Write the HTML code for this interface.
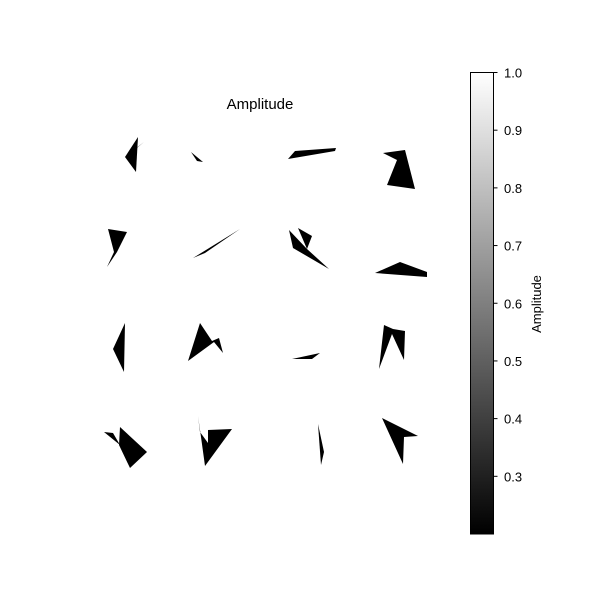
<!DOCTYPE html>
<html><head><meta charset="utf-8"><style>
html,body{margin:0;padding:0;background:#fff;}
svg{display:block;font-family:"Liberation Sans","DejaVu Sans",sans-serif;}
</style></head><body>
<svg id="chart" width="600" height="600" viewBox="0 0 600 600">
<defs><linearGradient id="grad" x1="0" y1="1" x2="0" y2="0">
<stop offset="0" stop-color="#000"/><stop offset="1" stop-color="#fff"/></linearGradient></defs>
<rect width="600" height="600" fill="#fff"/>
<text x="260" y="109" font-size="15" text-anchor="middle">Amplitude</text>
<g id="shapes"></g>
<rect x="470.5" y="72.5" width="23" height="461.5" fill="url(#grad)" stroke="#000" stroke-width="1"/>
<g id="cticks"></g>
<text transform="translate(541,304) rotate(-90)" font-size="13" text-anchor="middle">Amplitude</text>
</svg>
<script>
const shapePolys = [
 [[125,157],[138,137],[136,172]],
 [[125,157],[144,142],[132,152]],
 [[191,152],[203,162],[197,161]],
 [[288,159],[295,151],[336,148],[335,151]],
 [[383,153],[405,150],[415,189],[387,185],[397,160]],
 [[108,229],[127,232],[117,252],[107,267],[114,252]],
 [[193,258],[240,229],[205,253]],
 [[289,230],[293,248],[329,269],[307,249]],
 [[298,228],[312,236],[307,249]],
 [[375,273],[400,262],[427,272],[427,277]],
 [[125,323],[113,349],[124,372]],
 [[200,323],[188,361],[214,342],[223,353],[219,338],[212,341]],
 [[292,359],[320,353],[312,359]],
 [[384,325],[379,369],[392,334],[404,360],[405,331],[393,329]],
 [[104,432],[113,433],[120,445]],
 [[120,427],[147,452],[130,468],[119,445]],
 [[198,416],[200,432],[208,443],[208,430],[232,429],[205,466],[201,437]],
 [[318,424],[324,452],[321,465]],
 [[382,418],[418,436],[404,437],[403,464]]
];
const cbTicks = [0.3,0.4,0.5,0.6,0.7,0.8,0.9,1.0];
const cbMin = 0.2, cbMax = 1.0;
const ns = "http://www.w3.org/2000/svg";
const cy = v => 534 - (v - cbMin) / (cbMax - cbMin) * 461.5;
const g = document.getElementById('shapes');
shapePolys.forEach((p, i) => {
  const el = document.createElementNS(ns, 'polygon');
  el.setAttribute('points', p.map(q => q.join(',')).join(' '));
  el.setAttribute('fill', '#000');
  
  
  g.appendChild(el);
});
const tg = document.getElementById('cticks');
cbTicks.forEach(v => {
  const y = cy(v);
  const l = document.createElementNS(ns, 'line');
  l.setAttribute('x1', 493.5); l.setAttribute('x2', 497.5);
  l.setAttribute('y1', y); l.setAttribute('y2', y);
  l.setAttribute('stroke', '#000');
  
  
  tg.appendChild(l);
  const t = document.createElementNS(ns, 'text');
  t.setAttribute('x', 504); t.setAttribute('y', y + 5);
  t.setAttribute('font-size', '13');
  t.textContent = v.toFixed(1);
  
  
  tg.appendChild(t);
});
</script>
</body></html>
